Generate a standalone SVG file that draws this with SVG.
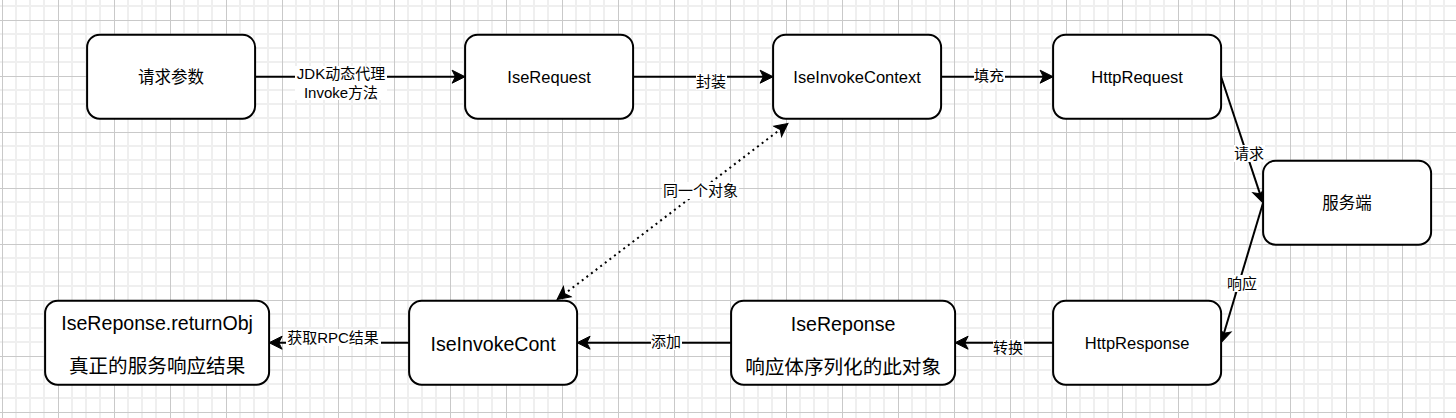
<svg xmlns="http://www.w3.org/2000/svg" width="1456" height="418" viewBox="0 0 1456 418">
<style>
  text { font-family: "Liberation Sans", "Noto Sans CJK SC", sans-serif; fill: #000; text-anchor: middle; }
  .node rect { fill: #fff; stroke: #000; stroke-width: 2; }
  .node text { font-size: 16.5px; }
  .node text.big { font-size: 19.6px; }
  .edge { fill: none; stroke: #000; stroke-width: 2; }
  .dotted { stroke-dasharray: 2 3.8; }
  .lbg { fill: #fff; }
  .lbl { font-size: 15px; }
</style>
<defs>
  <pattern id="grid" patternUnits="userSpaceOnUse" x="2" y="20" width="56" height="56">
    <path d="M14 0V56M28 0V56M42 0V56M0 14H56M0 28H56M0 42H56" stroke="#efefef" stroke-width="2" fill="none"/>
    <path d="M0.5 0V56M0 0.5H56" stroke="#c9c9c9" stroke-width="1" fill="none"/>
  </pattern>
  <marker id="arrow" markerUnits="userSpaceOnUse" markerWidth="16" markerHeight="16" viewBox="-1 -8 16 16" refX="5" refY="0" orient="auto-start-reverse">
    <path d="M13 0L0 -6.5L3.25 0L0 6.5Z" fill="#000" stroke="#000" stroke-width="1" stroke-linejoin="miter"/>
  </marker>
</defs>
<rect x="0" y="0" width="1456" height="418" fill="#fff"/>
<rect x="0" y="0" width="1456" height="418" fill="url(#grid)"/>

<g id="connectors">
  <path class="edge" d="M255.1 76.7H457.1" marker-end="url(#arrow)"/>
  <path class="edge" d="M633.1 76.7H765.1" marker-end="url(#arrow)"/>
  <path class="edge" d="M941.1 76.7H1045.1" marker-end="url(#arrow)"/>
  <path class="edge" d="M1221.1 76.7L1260.5 195.4" marker-end="url(#arrow)"/>
  <path class="edge" d="M1263.1 202.7L1223.4 335.0" marker-end="url(#arrow)"/>
  <path class="edge" d="M1053.1 342.7H963.1" marker-end="url(#arrow)"/>
  <path class="edge" d="M731.1 342.7H585.1" marker-end="url(#arrow)"/>
  <path class="edge" d="M409.1 342.7H277.1" marker-end="url(#arrow)"/>
  <path class="edge dotted" d="M563.4 294.7L781.6 128.4" marker-start="url(#arrow)" marker-end="url(#arrow)"/>

  <rect class="lbg" x="295" y="66" width="92" height="34"/>
  <text class="lbl" x="341" y="79">JDK动态代理</text>
  <text class="lbl" x="341" y="98">Invoke方法</text>

  <rect class="lbg" x="696" y="73" width="31" height="17"/>
  <text class="lbl" x="711" y="87">封装</text>

  <rect class="lbg" x="974" y="67" width="31" height="17"/>
  <text class="lbl" x="989" y="80.5">填充</text>

  <rect class="lbg" x="1234" y="145" width="31" height="17"/>
  <text class="lbl" x="1249" y="158.5">请求</text>

  <rect class="lbg" x="1227" y="275" width="31" height="17"/>
  <text class="lbl" x="1242" y="288.5">响应</text>

  <rect class="lbg" x="993" y="339" width="31" height="17"/>
  <text class="lbl" x="1008" y="352.5">转换</text>

  <rect class="lbg" x="651" y="333" width="31" height="17"/>
  <text class="lbl" x="666" y="346.5">添加</text>

  <rect class="lbg" x="286" y="329" width="95" height="17"/>
  <text class="lbl" x="333" y="342.5">获取RPC结果</text>

  <rect class="lbg" x="662" y="182" width="77" height="17"/>
  <text class="lbl" x="700.5" y="195.5">同一个对象</text>
</g>

<g id="node-params" class="node">
  <rect x="87.1" y="34.7" width="168" height="84" rx="12.6"/>
  <text x="171.1" y="82.7">请求参数</text>
</g>
<g id="node-iserequest" class="node">
  <rect x="465.1" y="34.7" width="168" height="84" rx="12.6"/>
  <text x="549.1" y="82.7">IseRequest</text>
</g>
<g id="node-iseinvokecontext" class="node">
  <rect x="773.1" y="34.7" width="168" height="84" rx="12.6"/>
  <text x="857.1" y="82.7">IseInvokeContext</text>
</g>
<g id="node-httprequest" class="node">
  <rect x="1053.1" y="34.7" width="168" height="84" rx="12.6"/>
  <text x="1137.1" y="82.7">HttpRequest</text>
</g>
<g id="node-server" class="node">
  <rect x="1263.1" y="160.7" width="168" height="84" rx="12.6"/>
  <text x="1347.1" y="208.7">服务端</text>
</g>
<g id="node-httpresponse" class="node">
  <rect x="1053.1" y="300.7" width="168" height="84" rx="12.6"/>
  <text x="1137.1" y="348.7">HttpResponse</text>
</g>
<g id="node-iseresponse" class="node">
  <rect x="731.1" y="300.7" width="224" height="84" rx="12.6"/>
  <text class="big" x="843.1" y="331.3">IseReponse</text>
  <text class="big" x="843.1" y="373.7">响应体序列化的此对象</text>
</g>
<g id="node-iseinvokecont" class="node">
  <rect x="409.1" y="300.7" width="168" height="84" rx="12.6"/>
  <text class="big" x="493.1" y="350.5">IseInvokeCont</text>
</g>
<g id="node-returnobj" class="node">
  <rect x="45.1" y="300.7" width="224" height="84" rx="12.6"/>
  <text class="big" x="157.1" y="330.4">IseReponse.returnObj</text>
  <text class="big" x="157.1" y="373">真正的服务响应结果</text>
</g>
</svg>
